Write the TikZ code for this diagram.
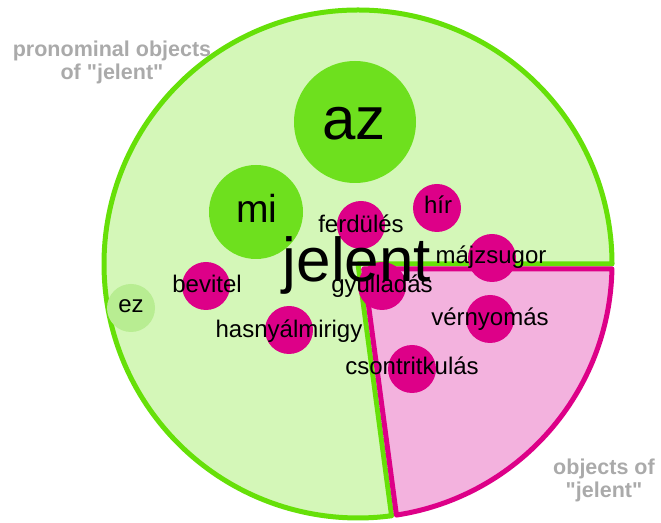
\documentclass[tikz,border=0pt]{standalone}
\usepackage{fontspec}
\usetikzlibrary{calc}
\setmainfont{Liberation Sans}[Ligatures=TeXOff]
\definecolor{gstroke}{RGB}{102,224,8}
\definecolor{gfill}{RGB}{212,247,184}
\definecolor{gbub}{RGB}{110,224,30}
\definecolor{gpale}{RGB}{184,237,146}
\definecolor{mag}{RGB}{221,0,136}
\definecolor{pfill}{RGB}{243,178,222}
\definecolor{glabel}{RGB}{170,170,170}
\begin{document}
\begin{tikzpicture}[x=1pt,y=1pt,
  greenpie/.style={fill=gfill,draw=gstroke,line width=5pt,line join=round},
  pinkpie/.style={fill=pfill,draw=mag,line width=5pt,line join=round},
  bubble/.style={circle,inner sep=0pt,draw=none,minimum size=#1},
  magbub/.style={bubble=48pt,fill=mag},
  word/.style={anchor=base,inner sep=0pt,text=black,font=\fontsize{24}{28}\selectfont},
  grouplabel/.style={align=center,text=glabel,font=\bfseries\fontsize{21.5}{23}\selectfont}]
\useasboundingbox (0,0) rectangle (661,522);
\coordinate (c) at (358,258);
\coordinate (p) at (363.7,253);
% pie
\path[greenpie] (c) -- ++(0:254) arc[start angle=0,end angle=277.6,radius=254] -- cycle;
\path[pinkpie] (p) -- ($(c)+(-1.1:254)$) arc[start angle=-1.1,end angle=-81.3,radius=254] -- cycle;
% bubbles
\node[bubble=122pt,fill=gbub] (baz) at (355,400) {};
\node[bubble=94pt,fill=gbub] (bmi) at (256,310) {};
\node[bubble=48pt,fill=gpale] (bez) at (131,214) {};
\node[magbub] (bbevitel) at (206,236) {};
\node[magbub] (bhasny) at (289,192) {};
\node[magbub] (bferd) at (361,297) {};
\node[magbub] (bhir) at (437,314) {};
\node[magbub] (bmajz) at (492,264) {};
\node[magbub] (bgyul) at (382,236) {};
\node[magbub] (bvern) at (490,203) {};
\node[magbub] (bcsont) at (412,153) {};
% words
\node[word,font=\fontsize{60}{66}\selectfont] (taz) at (354,382) {az};
\node[word,font=\fontsize{39}{44}\selectfont] (tmi) at (257,299) {mi};
\node[word] (tez) at (131,209) {ez};
\node[word] (tbevitel) at (207,229) {bevitel};
\node[word] (thasny) at (289,184) {hasnyálmirigy};
\node[word] (tferd) at (361,289) {ferdülés};
\node[word] (thir) at (438,308) {hír};
\node[word] (tmajz) at (491,258) {májzsugor};
\node[word] (tgyul) at (382,229) {gyulladás};
\node[word] (tvern) at (490,196) {vérnyomás};
\node[word] (tcsont) at (412,147) {csontritkulás};
\node[word,font=\fontsize{62}{68}\selectfont] (tjelent) at (357,240) {jelent};
% group labels
\node[grouplabel] (lpron) at (112,460) {pronominal objects\\of "jelent"};
\node[grouplabel] (lobj) at (604,42) {objects of\\"jelent"};
\end{tikzpicture}
\end{document}
